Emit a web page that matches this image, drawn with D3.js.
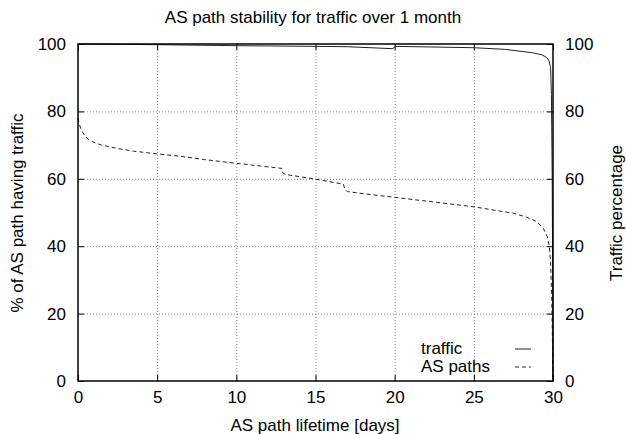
<!DOCTYPE html>
<html>
<head>
<meta charset="utf-8">
<script src="https://cdn.jsdelivr.net/npm/d3@7"></script>
<style>
  body { margin: 0; background: #fff; }
  svg { font-family: "Liberation Sans", Arial, sans-serif; }
  .grid line { stroke: #888; stroke-dasharray: 1,2; }
  .grid path { display: none; }
  .ax path { display: none; }
  .ax line { stroke: #000; }
  .ax text { font-size: 17px; fill: #000; }
</style>
</head>
<body>
<script>
// chart data
var xTicks = [0, 5, 10, 15, 20, 25, 30];
var yTicks = [0, 20, 40, 60, 80, 100];

var trafDays = [0, 5, 10, 15, 17, 19.9, 20, 25, 27, 28.7, 29.3, 29.6, 29.75, 29.85, 29.9, 29.95, 29.98, 30];
var trafPct  = [100, 99.8, 99.5, 99.3, 99.2, 98.6, 99.3, 98.9, 98.4, 97.4, 96.8, 96, 95, 93, 85, 60, 30, 0];

var asDays = [0, 0.1, 0.2, 0.4, 0.7, 1, 1.5, 2.5, 3.5, 5, 6.6, 8, 10, 11.5, 12.87, 12.95, 13.1, 15, 16.76, 16.85, 17.01,
              18.5, 20, 22.5, 25, 26.27, 27.5, 28.34, 28.97, 29.39, 29.64, 29.77, 29.85, 29.92, 29.97, 30];
var asPct  = [78, 76, 74.5, 73, 71.5, 70.8, 70, 69, 68.2, 67.4, 66.6, 65.7, 64.6, 63.8, 63.1, 61.6, 61.3, 59.9, 58.4, 57, 56.2,
              55.3, 54.5, 53.1, 51.7, 50.7, 49.8, 48.6, 47.3, 45.3, 42.8, 39.9, 35, 25, 10, 0];

var w = 626, h = 434;
var pL = 78, pR = 553, pT = 44, pB = 381;
var fs = 17;

var svg = d3.select("body").append("svg")
            .attr("width", w)
            .attr("height", h);

var xScale = d3.scaleLinear().domain([0, 30]).range([pL, pR]);
var yScale = d3.scaleLinear().domain([0, 100]).range([pB, pT]);

// grid
svg.append("g").attr("class", "grid")
   .attr("transform", "translate(0," + pB + ")")
   .call(d3.axisBottom(xScale).tickValues([5, 10, 15, 20, 25]).tickSize(-(pB - pT)).tickFormat(""));
svg.append("g").attr("class", "grid")
   .attr("transform", "translate(" + pL + ",0)")
   .call(d3.axisLeft(yScale).tickValues([20, 40, 60, 80]).tickSize(-(pR - pL)).tickFormat(""));

// axes, ticks pointing inward like gnuplot
svg.append("g").attr("class", "ax")
   .attr("transform", "translate(0," + pB + ")")
   .call(d3.axisBottom(xScale).tickValues(xTicks).tickSize(-6).tickPadding(10));
svg.append("g").attr("class", "ax")
   .attr("transform", "translate(0," + pT + ")")
   .call(d3.axisTop(xScale).tickValues(xTicks).tickSize(-6).tickFormat(""));
svg.append("g").attr("class", "ax")
   .attr("transform", "translate(" + pL + ",0)")
   .call(d3.axisLeft(yScale).tickValues(yTicks).tickSize(-6).tickPadding(12));
svg.append("g").attr("class", "ax")
   .attr("transform", "translate(" + pR + ",0)")
   .call(d3.axisRight(yScale).tickValues(yTicks).tickSize(-6).tickPadding(12));

// lines
var line = d3.line().x(d => xScale(d[0])).y(d => yScale(d[1]));

svg.append("path")
   .datum(trafDays.map((d, i) => [d, trafPct[i]]))
   .attr("d", line)
   .attr("fill", "none")
   .attr("stroke", "#222")
   .attr("stroke-width", 1);

svg.append("path")
   .datum(asDays.map((d, i) => [d, asPct[i]]))
   .attr("d", line)
   .attr("fill", "none")
   .attr("stroke", "#222")
   .attr("stroke-width", 1)
   .attr("stroke-dasharray", "4,3");

// frame
svg.append("rect")
   .attr("x", pL).attr("y", pT)
   .attr("width", pR - pL).attr("height", pB - pT)
   .attr("fill", "none")
   .attr("stroke", "#000")
   .attr("stroke-width", 1.5);

// legend
var legend = [["traffic", null], ["AS paths", "4,3"]];
legend.forEach((l, i) => {
  svg.append("text").attr("x", 421).attr("y", 354 + i * 18)
     .attr("font-size", fs).text(l[0]);
  svg.append("line")
     .attr("x1", 515).attr("x2", 531)
     .attr("y1", 349 + i * 18).attr("y2", 349 + i * 18)
     .attr("stroke", "#222")
     .attr("stroke-dasharray", l[1]);
});

// titles
svg.append("text").attr("x", 313).attr("y", 23)
   .attr("text-anchor", "middle").attr("font-size", fs)
   .text("AS path stability for traffic over 1 month");
svg.append("text").attr("x", 315).attr("y", 431)
   .attr("text-anchor", "middle").attr("font-size", fs)
   .text("AS path lifetime [days]");
svg.append("text")
   .attr("transform", "translate(23,213) rotate(-90)")
   .attr("text-anchor", "middle").attr("font-size", fs)
   .text("% of AS path having traffic");
svg.append("text")
   .attr("transform", "translate(622,213) rotate(-90)")
   .attr("text-anchor", "middle").attr("font-size", fs)
   .text("Traffic percentage");
</script>
</body>
</html>
